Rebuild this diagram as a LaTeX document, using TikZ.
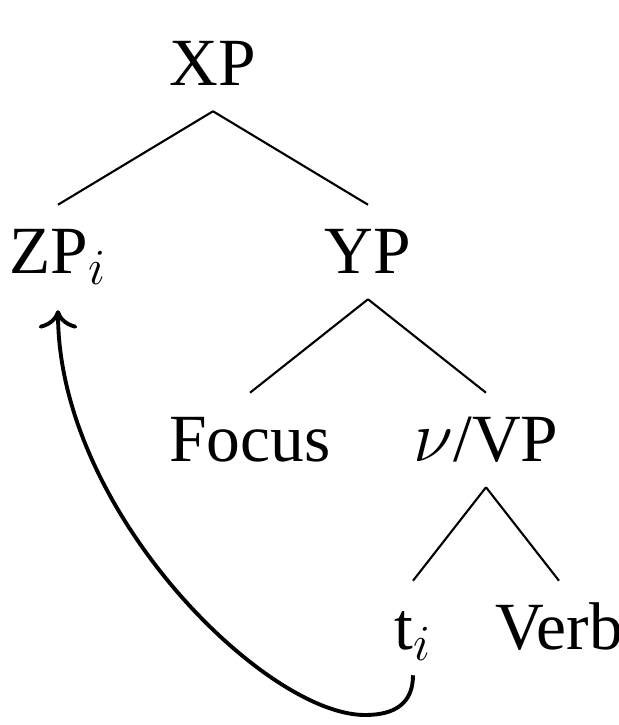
\documentclass[tikz,border=0pt]{standalone}
\usepackage{fontspec}
\setmainfont{Liberation Serif}
\usepackage{tikz}
\usetikzlibrary{trees,arrows.meta}
\tikzstyle{every node}=[font=\fontsize{19.2pt}{22pt}\selectfont,text height=12.5pt,text depth=0pt,inner ysep=7pt]

\begin{document}
\begin{tikzpicture}[level distance=1.88cm,
	level 1/.style={sibling distance=3.1cm},
	level 2/.style={sibling distance=2.36cm},
	level 3/.style={sibling distance=1.46cm},
	edge from parent/.style={draw,semithick},
	edge from parent path={(\tikzparentnode.south) -- (\tikzchildnode.north)}]
	\useasboundingbox (0,0) rectangle (6.18,-7.25);
	\node (xp) at (2.13,-0.64) {XP}
	child { node (zp) {ZP$_i$}}
	child { node (yp) {YP}
		child { node (focus) {Focus}}
		child { node (vp) {$\nu$/VP}
			child { node (ti) {t$_i$}}
			child { node (verb) {Verb}}
		}
	};
	% movement arrow from the trace back up to ZP
	\coordinate (low) at (3.65,-7.15);
	\draw[-{To[scale=1.3]},line width=1.1pt] (ti.south) .. controls +(0,-0.28) and +(0.3,0) .. (low)
		.. controls +(-1,0) and +(0,-2) .. ([yshift=-0.11cm]zp.south);
\end{tikzpicture}
\end{document}
